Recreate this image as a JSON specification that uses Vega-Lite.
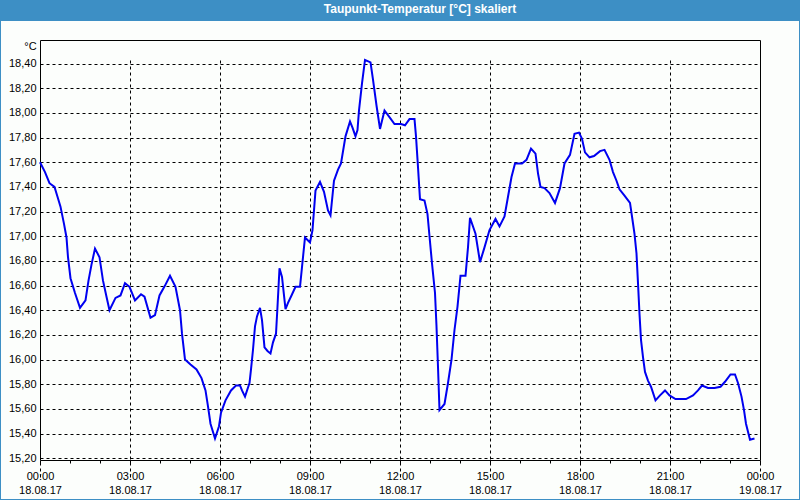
{
  "$schema": "https://vega.github.io/schema/vega-lite/v6.json",
  "autosize": {"type": "none"},
  "width": 798,
  "height": 478,
  "padding": {"top": 21, "left": 1, "right": 1, "bottom": 1},
  "background": "#3d8fc5",
  "title": {
    "text": "Taupunkt-Temperatur [°C] skaliert",
    "color": "#ffffff",
    "font": "Liberation Sans",
    "fontSize": 12,
    "fontWeight": "bold",
    "anchor": "middle",
    "frame": "group",
    "dx": 20,
    "offset": 5
  },
  "config": {
    "view": {"fill": "#fcfefc", "stroke": null},
    "axis": {
      "labelFont": "Liberation Sans",
      "labelFontSize": 11,
      "labelColor": "#000000",
      "titleFont": "Liberation Sans",
      "titleFontSize": 11,
      "titleFontWeight": "normal",
      "titleColor": "#000000",
      "domainColor": "#000000",
      "domainWidth": 1,
      "tickColor": "#000000",
      "gridColor": "#000000",
      "gridDash": [3, 3],
      "gridWidth": 1,
      "gridOpacity": 1
    }
  },
  "data": {
    "values": [
      {"t": "2017-08-18T00:00", "v": 17.60},
      {"t": "2017-08-18T00:10", "v": 17.52},
      {"t": "2017-08-18T00:19", "v": 17.43},
      {"t": "2017-08-18T00:29", "v": 17.40},
      {"t": "2017-08-18T00:35", "v": 17.32},
      {"t": "2017-08-18T00:41", "v": 17.24},
      {"t": "2017-08-18T00:48", "v": 17.10},
      {"t": "2017-08-18T00:53", "v": 16.99},
      {"t": "2017-08-18T00:56", "v": 16.83},
      {"t": "2017-08-18T01:01", "v": 16.66},
      {"t": "2017-08-18T01:10", "v": 16.54},
      {"t": "2017-08-18T01:20", "v": 16.42},
      {"t": "2017-08-18T01:31", "v": 16.48},
      {"t": "2017-08-18T01:37", "v": 16.64},
      {"t": "2017-08-18T01:43", "v": 16.77},
      {"t": "2017-08-18T01:50", "v": 16.90},
      {"t": "2017-08-18T01:59", "v": 16.83},
      {"t": "2017-08-18T02:06", "v": 16.64},
      {"t": "2017-08-18T02:13", "v": 16.51},
      {"t": "2017-08-18T02:19", "v": 16.40},
      {"t": "2017-08-18T02:31", "v": 16.50},
      {"t": "2017-08-18T02:41", "v": 16.52},
      {"t": "2017-08-18T02:50", "v": 16.62},
      {"t": "2017-08-18T02:59", "v": 16.59},
      {"t": "2017-08-18T03:10", "v": 16.48},
      {"t": "2017-08-18T03:22", "v": 16.53},
      {"t": "2017-08-18T03:29", "v": 16.51},
      {"t": "2017-08-18T03:41", "v": 16.34},
      {"t": "2017-08-18T03:50", "v": 16.36},
      {"t": "2017-08-18T03:59", "v": 16.52},
      {"t": "2017-08-18T04:10", "v": 16.60},
      {"t": "2017-08-18T04:20", "v": 16.68},
      {"t": "2017-08-18T04:31", "v": 16.59},
      {"t": "2017-08-18T04:40", "v": 16.40},
      {"t": "2017-08-18T04:44", "v": 16.21},
      {"t": "2017-08-18T04:50", "v": 16.00},
      {"t": "2017-08-18T05:01", "v": 15.96},
      {"t": "2017-08-18T05:13", "v": 15.92},
      {"t": "2017-08-18T05:23", "v": 15.85},
      {"t": "2017-08-18T05:31", "v": 15.75},
      {"t": "2017-08-18T05:36", "v": 15.62},
      {"t": "2017-08-18T05:41", "v": 15.48},
      {"t": "2017-08-18T05:50", "v": 15.36},
      {"t": "2017-08-18T05:58", "v": 15.46},
      {"t": "2017-08-18T06:02", "v": 15.57},
      {"t": "2017-08-18T06:11", "v": 15.67},
      {"t": "2017-08-18T06:22", "v": 15.75},
      {"t": "2017-08-18T06:32", "v": 15.79},
      {"t": "2017-08-18T06:40", "v": 15.79},
      {"t": "2017-08-18T06:44", "v": 15.75},
      {"t": "2017-08-18T06:50", "v": 15.70},
      {"t": "2017-08-18T06:59", "v": 15.81},
      {"t": "2017-08-18T07:02", "v": 15.92},
      {"t": "2017-08-18T07:06", "v": 16.08},
      {"t": "2017-08-18T07:10", "v": 16.27},
      {"t": "2017-08-18T07:14", "v": 16.35},
      {"t": "2017-08-18T07:20", "v": 16.42},
      {"t": "2017-08-18T07:24", "v": 16.32},
      {"t": "2017-08-18T07:29", "v": 16.10},
      {"t": "2017-08-18T07:35", "v": 16.07},
      {"t": "2017-08-18T07:41", "v": 16.05},
      {"t": "2017-08-18T07:46", "v": 16.14},
      {"t": "2017-08-18T07:52", "v": 16.21},
      {"t": "2017-08-18T07:55", "v": 16.43},
      {"t": "2017-08-18T07:59", "v": 16.74},
      {"t": "2017-08-18T08:04", "v": 16.67},
      {"t": "2017-08-18T08:11", "v": 16.41},
      {"t": "2017-08-18T08:16", "v": 16.46},
      {"t": "2017-08-18T08:23", "v": 16.52},
      {"t": "2017-08-18T08:31", "v": 16.59},
      {"t": "2017-08-18T08:40", "v": 16.59},
      {"t": "2017-08-18T08:44", "v": 16.75},
      {"t": "2017-08-18T08:50", "v": 16.99},
      {"t": "2017-08-18T09:00", "v": 16.95},
      {"t": "2017-08-18T09:05", "v": 17.05},
      {"t": "2017-08-18T09:11", "v": 17.37},
      {"t": "2017-08-18T09:20", "v": 17.44},
      {"t": "2017-08-18T09:28", "v": 17.36},
      {"t": "2017-08-18T09:36", "v": 17.21},
      {"t": "2017-08-18T09:41", "v": 17.17},
      {"t": "2017-08-18T09:48", "v": 17.45},
      {"t": "2017-08-18T09:56", "v": 17.54},
      {"t": "2017-08-18T10:02", "v": 17.59},
      {"t": "2017-08-18T10:11", "v": 17.81},
      {"t": "2017-08-18T10:20", "v": 17.93},
      {"t": "2017-08-18T10:25", "v": 17.88},
      {"t": "2017-08-18T10:31", "v": 17.81},
      {"t": "2017-08-18T10:35", "v": 17.86},
      {"t": "2017-08-18T10:38", "v": 18.02},
      {"t": "2017-08-18T10:44", "v": 18.24},
      {"t": "2017-08-18T10:50", "v": 18.43},
      {"t": "2017-08-18T11:01", "v": 18.41},
      {"t": "2017-08-18T11:06", "v": 18.27},
      {"t": "2017-08-18T11:13", "v": 18.06},
      {"t": "2017-08-18T11:20", "v": 17.87},
      {"t": "2017-08-18T11:29", "v": 18.02},
      {"t": "2017-08-18T11:40", "v": 17.96},
      {"t": "2017-08-18T11:49", "v": 17.91},
      {"t": "2017-08-18T12:02", "v": 17.91},
      {"t": "2017-08-18T12:10", "v": 17.90},
      {"t": "2017-08-18T12:19", "v": 17.95},
      {"t": "2017-08-18T12:29", "v": 17.95},
      {"t": "2017-08-18T12:32", "v": 17.81},
      {"t": "2017-08-18T12:36", "v": 17.56},
      {"t": "2017-08-18T12:40", "v": 17.30},
      {"t": "2017-08-18T12:49", "v": 17.29},
      {"t": "2017-08-18T12:55", "v": 17.18},
      {"t": "2017-08-18T12:59", "v": 17.00},
      {"t": "2017-08-18T13:04", "v": 16.78},
      {"t": "2017-08-18T13:10", "v": 16.54},
      {"t": "2017-08-18T13:13", "v": 16.27},
      {"t": "2017-08-18T13:16", "v": 15.94},
      {"t": "2017-08-18T13:19", "v": 15.59},
      {"t": "2017-08-18T13:29", "v": 15.64},
      {"t": "2017-08-18T13:36", "v": 15.81},
      {"t": "2017-08-18T13:43", "v": 16.00},
      {"t": "2017-08-18T13:49", "v": 16.24},
      {"t": "2017-08-18T13:55", "v": 16.43},
      {"t": "2017-08-18T14:01", "v": 16.68},
      {"t": "2017-08-18T14:11", "v": 16.68},
      {"t": "2017-08-18T14:16", "v": 16.91},
      {"t": "2017-08-18T14:20", "v": 17.15},
      {"t": "2017-08-18T14:31", "v": 17.02},
      {"t": "2017-08-18T14:40", "v": 16.79},
      {"t": "2017-08-18T14:49", "v": 16.91},
      {"t": "2017-08-18T14:59", "v": 17.05},
      {"t": "2017-08-18T15:11", "v": 17.14},
      {"t": "2017-08-18T15:19", "v": 17.08},
      {"t": "2017-08-18T15:29", "v": 17.16},
      {"t": "2017-08-18T15:36", "v": 17.32},
      {"t": "2017-08-18T15:43", "v": 17.48},
      {"t": "2017-08-18T15:50", "v": 17.59},
      {"t": "2017-08-18T16:04", "v": 17.59},
      {"t": "2017-08-18T16:13", "v": 17.62},
      {"t": "2017-08-18T16:22", "v": 17.71},
      {"t": "2017-08-18T16:31", "v": 17.67},
      {"t": "2017-08-18T16:36", "v": 17.51},
      {"t": "2017-08-18T16:41", "v": 17.40},
      {"t": "2017-08-18T16:49", "v": 17.39},
      {"t": "2017-08-18T16:59", "v": 17.35},
      {"t": "2017-08-18T17:10", "v": 17.27},
      {"t": "2017-08-18T17:20", "v": 17.39},
      {"t": "2017-08-18T17:29", "v": 17.59},
      {"t": "2017-08-18T17:40", "v": 17.66},
      {"t": "2017-08-18T17:49", "v": 17.83},
      {"t": "2017-08-18T17:58", "v": 17.84},
      {"t": "2017-08-18T18:04", "v": 17.79},
      {"t": "2017-08-18T18:10", "v": 17.68},
      {"t": "2017-08-18T18:19", "v": 17.64},
      {"t": "2017-08-18T18:28", "v": 17.65},
      {"t": "2017-08-18T18:40", "v": 17.69},
      {"t": "2017-08-18T18:49", "v": 17.70},
      {"t": "2017-08-18T18:59", "v": 17.62},
      {"t": "2017-08-18T19:06", "v": 17.52},
      {"t": "2017-08-18T19:13", "v": 17.45},
      {"t": "2017-08-18T19:19", "v": 17.38},
      {"t": "2017-08-18T19:29", "v": 17.33},
      {"t": "2017-08-18T19:40", "v": 17.27},
      {"t": "2017-08-18T19:44", "v": 17.16},
      {"t": "2017-08-18T19:49", "v": 17.02},
      {"t": "2017-08-18T19:53", "v": 16.86},
      {"t": "2017-08-18T19:56", "v": 16.62},
      {"t": "2017-08-18T19:59", "v": 16.37},
      {"t": "2017-08-18T20:02", "v": 16.16},
      {"t": "2017-08-18T20:06", "v": 16.02},
      {"t": "2017-08-18T20:10", "v": 15.90},
      {"t": "2017-08-18T20:16", "v": 15.83},
      {"t": "2017-08-18T20:22", "v": 15.78},
      {"t": "2017-08-18T20:31", "v": 15.67},
      {"t": "2017-08-18T20:40", "v": 15.71},
      {"t": "2017-08-18T20:50", "v": 15.75},
      {"t": "2017-08-18T20:59", "v": 15.71},
      {"t": "2017-08-18T21:11", "v": 15.68},
      {"t": "2017-08-18T21:32", "v": 15.68},
      {"t": "2017-08-18T21:46", "v": 15.71},
      {"t": "2017-08-18T21:56", "v": 15.75},
      {"t": "2017-08-18T22:04", "v": 15.79},
      {"t": "2017-08-18T22:16", "v": 15.77},
      {"t": "2017-08-18T22:29", "v": 15.77},
      {"t": "2017-08-18T22:41", "v": 15.78},
      {"t": "2017-08-18T22:50", "v": 15.82},
      {"t": "2017-08-18T23:01", "v": 15.88},
      {"t": "2017-08-18T23:10", "v": 15.88},
      {"t": "2017-08-18T23:16", "v": 15.81},
      {"t": "2017-08-18T23:23", "v": 15.70},
      {"t": "2017-08-18T23:28", "v": 15.59},
      {"t": "2017-08-18T23:32", "v": 15.48},
      {"t": "2017-08-18T23:40", "v": 15.35},
      {"t": "2017-08-18T23:49", "v": 15.36}
    ]
  },
  "layer": [
    {
      "mark": {"type": "line", "color": "#0000f0", "strokeWidth": 2, "clip": true},
      "encoding": {
        "x": {
          "field": "t",
          "type": "temporal",
          "scale": {
            "domain": [
              {"year": 2017, "month": 8, "date": 18, "hours": 0},
              {"year": 2017, "month": 8, "date": 19, "hours": 0}
            ],
            "range": [39, 759],
            "nice": false
          },
          "axis": {
            "orient": "bottom",
            "offset": -39,
            "title": null,
            "values": [
              {"year": 2017, "month": 8, "date": 18, "hours": 0},
              {"year": 2017, "month": 8, "date": 18, "hours": 1},
              {"year": 2017, "month": 8, "date": 18, "hours": 2},
              {"year": 2017, "month": 8, "date": 18, "hours": 3},
              {"year": 2017, "month": 8, "date": 18, "hours": 4},
              {"year": 2017, "month": 8, "date": 18, "hours": 5},
              {"year": 2017, "month": 8, "date": 18, "hours": 6},
              {"year": 2017, "month": 8, "date": 18, "hours": 7},
              {"year": 2017, "month": 8, "date": 18, "hours": 8},
              {"year": 2017, "month": 8, "date": 18, "hours": 9},
              {"year": 2017, "month": 8, "date": 18, "hours": 10},
              {"year": 2017, "month": 8, "date": 18, "hours": 11},
              {"year": 2017, "month": 8, "date": 18, "hours": 12},
              {"year": 2017, "month": 8, "date": 18, "hours": 13},
              {"year": 2017, "month": 8, "date": 18, "hours": 14},
              {"year": 2017, "month": 8, "date": 18, "hours": 15},
              {"year": 2017, "month": 8, "date": 18, "hours": 16},
              {"year": 2017, "month": 8, "date": 18, "hours": 17},
              {"year": 2017, "month": 8, "date": 18, "hours": 18},
              {"year": 2017, "month": 8, "date": 18, "hours": 19},
              {"year": 2017, "month": 8, "date": 18, "hours": 20},
              {"year": 2017, "month": 8, "date": 18, "hours": 21},
              {"year": 2017, "month": 8, "date": 18, "hours": 22},
              {"year": 2017, "month": 8, "date": 18, "hours": 23},
              {"year": 2017, "month": 8, "date": 19, "hours": 0}
            ],
            "labelExpr": "hours(datum.value) % 3 === 0 ? [timeFormat(datum.value, '%H:%M'), timeFormat(datum.value, '%d.%m.%y')] : ''",
            "labelOverlap": false,
            "labelFlush": false,
            "labelBound": false,
            "labelAlign": "center",
            "labelBaseline": "top",
            "labelLineHeight": 14,
            "labelPadding": 7,
            "ticks": true,
            "tickSize": 3,
            "grid": true,
            "gridOpacity": {"condition": {"test": "hours(datum.value) % 3 === 0", "value": 1}, "value": 0}
          }
        },
        "y": {
          "field": "v",
          "type": "quantitative",
          "scale": {"domain": [15.186, 18.591], "range": [439, 19], "nice": false, "zero": false},
          "axis": {
            "orient": "left",
            "offset": -39,
            "values": [15.2, 15.4, 15.6, 15.8, 16.0, 16.2, 16.4, 16.6, 16.8, 17.0, 17.2, 17.4, 17.6, 17.8, 18.0, 18.2, 18.4],
            "labelExpr": "replace(format(datum.value, '.2f'), '.', ',')",
            "labelPadding": 4,
            "labelOverlap": false,
            "labelFlush": false,
            "labelBound": false,
            "ticks": false,
            "tickSize": 0,
            "grid": true,
            "title": "°C",
            "titleAngle": 0,
            "titleX": -10,
            "titleY": 25,
            "titleAlign": "center",
            "titleBaseline": "middle"
          }
        }
      }
    },
    {
      "mark": {"type": "line", "strokeOpacity": 0},
      "encoding": {
        "x": {
          "field": "t",
          "type": "temporal",
          "axis": {"orient": "top", "offset": -19, "title": null, "labels": false, "ticks": false, "grid": false, "domain": true}
        },
        "y": {
          "field": "v",
          "type": "quantitative",
          "axis": {"orient": "right", "offset": -39, "title": null, "labels": false, "ticks": false, "grid": false, "domain": true}
        }
      }
    }
  ],
  "resolve": {"axis": {"x": "independent", "y": "independent"}}
}
